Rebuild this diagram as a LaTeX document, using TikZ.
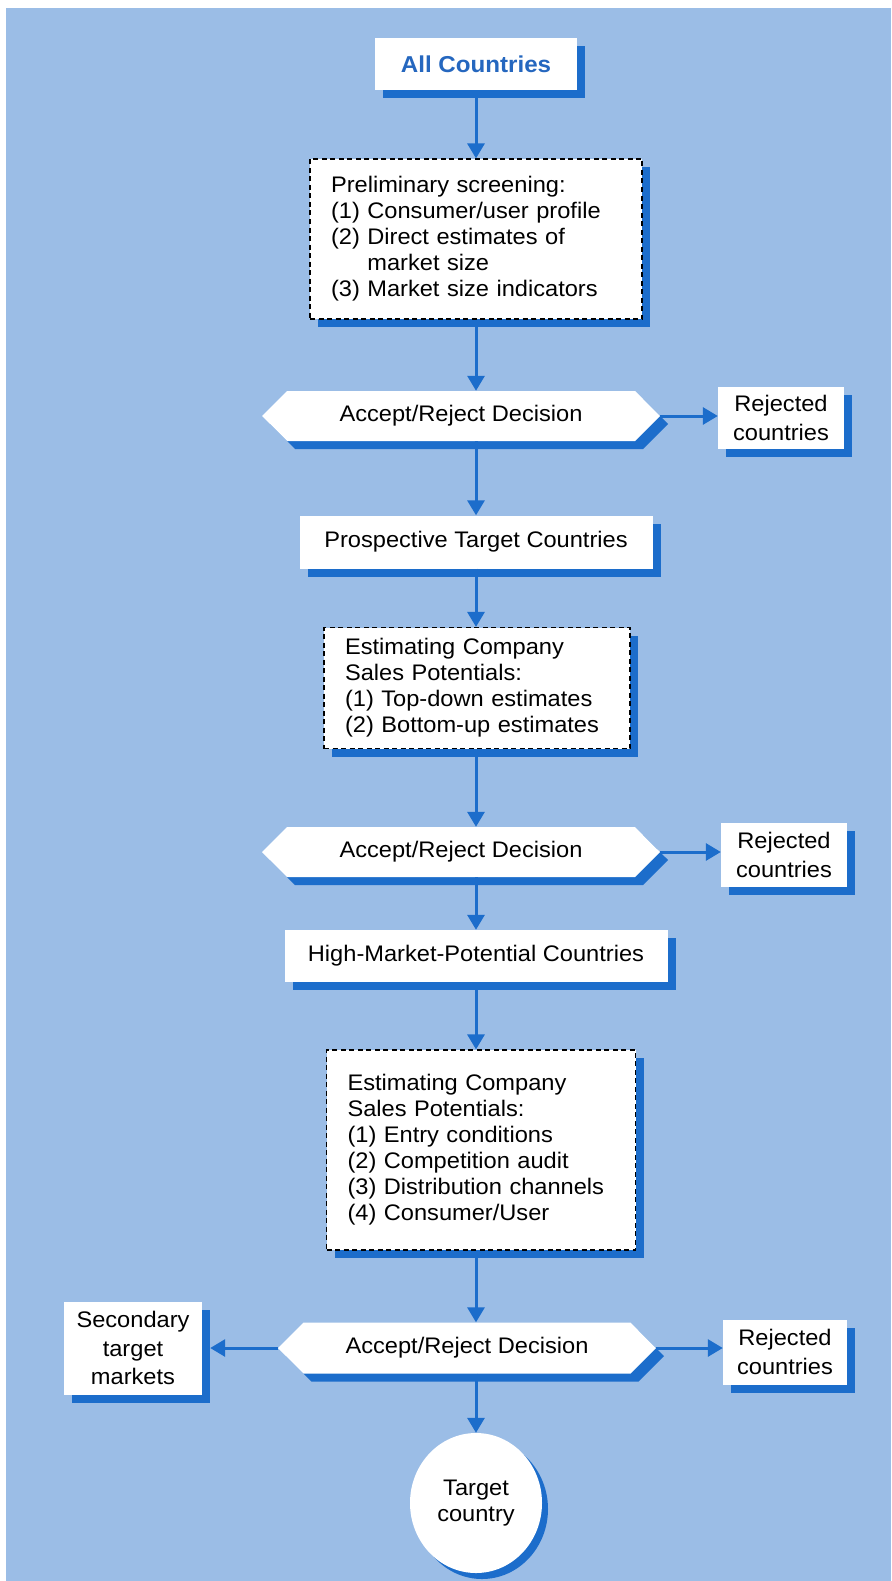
\documentclass[tikz,border=0pt]{standalone}
\usepackage{fontspec}
\setmainfont{Liberation Sans}[FakeStretch=1.05]
\usetikzlibrary{arrows.meta,shapes.symbols,shapes.geometric,shadows}
\definecolor{bgblue}{HTML}{9BBDE6}
\definecolor{shblue}{HTML}{1C6DCB}
\definecolor{ttblue}{HTML}{2567BF}
\begin{document}
\begin{tikzpicture}[x=1pt,y=-1pt,
  txt/.style={font=\fontsize{22.5}{26}\selectfont},
  looser/.style={font=\fontsize{22.5}{28.5}\selectfont},
  sh/.style={drop shadow={shadow xshift=8pt,shadow yshift=-8pt,fill=shblue,opacity=1,draw=none}},
  plainbox/.style={txt,sh,fill=white,rectangle,inner sep=0pt,align=center},
  dashbox/.style={txt,sh,fill=white,draw=black,dash pattern=on 5pt off 3.5pt,line width=1.2pt,rectangle,inner ysep=0pt,inner xsep=21pt,align=left},
  decision/.style={txt,sh,fill=white,shape=signal,signal to=west and east,signal pointer angle=90,inner sep=0pt,align=center},
  flow/.style={shblue,line width=3pt,-{Triangle[length=15pt,width=17pt]}}
]
\useasboundingbox (0,0) rectangle (891,1581);
\fill[white] (0,0) rectangle (891,1581);
\fill[bgblue] (6,8) rectangle (891,1581);

\node[plainbox, minimum width=202pt, minimum height=52pt, font=\fontsize{23}{28}\selectfont\bfseries, text=ttblue] (ac) at (476,64) {All Countries};

\node[dashbox, minimum width=332pt, minimum height=160pt, text width=290pt] (pre) at (476,239)
  {Preliminary screening:\\(1) Consumer/user profile\\(2) Direct estimates of\\\phantom{(2) }market size\\(3) Market size indicators};

\node[decision, minimum width=398pt, minimum height=50pt] (d1) at (461,416) {Accept/Reject Decision};
\node[plainbox, looser, minimum width=126pt, minimum height=62pt] (r1) at (781,418) {Rejected\\countries};

\node[plainbox, minimum width=353pt, minimum height=53pt] (pro) at (476,542) {Prospective Target Countries};

\node[dashbox, minimum width=306pt, minimum height=121pt, text width=264pt] (e1) at (477,688)
  {Estimating Company\\Sales Potentials:\\(1) Top-down estimates\\(2) Bottom-up estimates};

\node[decision, minimum width=398pt, minimum height=50pt] (d2) at (461,852) {Accept/Reject Decision};
\node[plainbox, looser, minimum width=126pt, minimum height=64pt] (r2) at (784,855) {Rejected\\countries};

\node[plainbox, minimum width=383pt, minimum height=52pt] (hm) at (476,956) {High-Market-Potential Countries};

\node[dashbox, minimum width=309pt, minimum height=200pt, text width=267pt] (e2) at (481,1150)
  {Estimating Company\\Sales Potentials:\\(1) Entry conditions\\(2) Competition audit\\(3) Distribution channels\\(4) Consumer/User};

\node[decision, minimum width=378pt, minimum height=51pt] (d3) at (467,1348) {Accept/Reject Decision};
\node[plainbox, looser, minimum width=138pt, minimum height=93pt] (sec) at (133,1348) {Secondary\\target\\markets};
\node[plainbox, looser, minimum width=124pt, minimum height=65pt] (r3) at (785,1352) {Rejected\\countries};

\node[txt, ellipse, fill=white, inner sep=0pt, minimum width=132pt, minimum height=140pt, align=center,
  drop shadow={shadow xshift=6pt,shadow yshift=-6pt,fill=shblue,opacity=1,draw=none}] (tc) at (476,1503) {Target\\country};

\draw[flow] (ac.south) -- (pre.north);
\draw[flow] (pre.south) -- (pre.south |- d1.north);
\draw[flow] (d1.east) -- (d1.east -| r1.west);
\draw[flow] (pre.south |- d1.south) -- (pro.north);
\draw[flow] (pro.south) -- (pro.south |- e1.north);
\draw[flow] (pro.south |- e1.south) -- (pro.south |- d2.north);
\draw[flow] (d2.east) -- (d2.east -| r2.west);
\draw[flow] (pro.south |- d2.south) -- (hm.north);
\draw[flow] (hm.south) -- (hm.south |- e2.north);
\draw[flow] (hm.south |- e2.south) -- (hm.south |- d3.north);
\draw[flow] (d3.east) -- (d3.east -| r3.west);
\draw[flow] (d3.west) -- ([xshift=8pt]d3.west -| sec.east);
\draw[flow] (hm.south |- d3.south) -- (tc.north);
\end{tikzpicture}
\end{document}
